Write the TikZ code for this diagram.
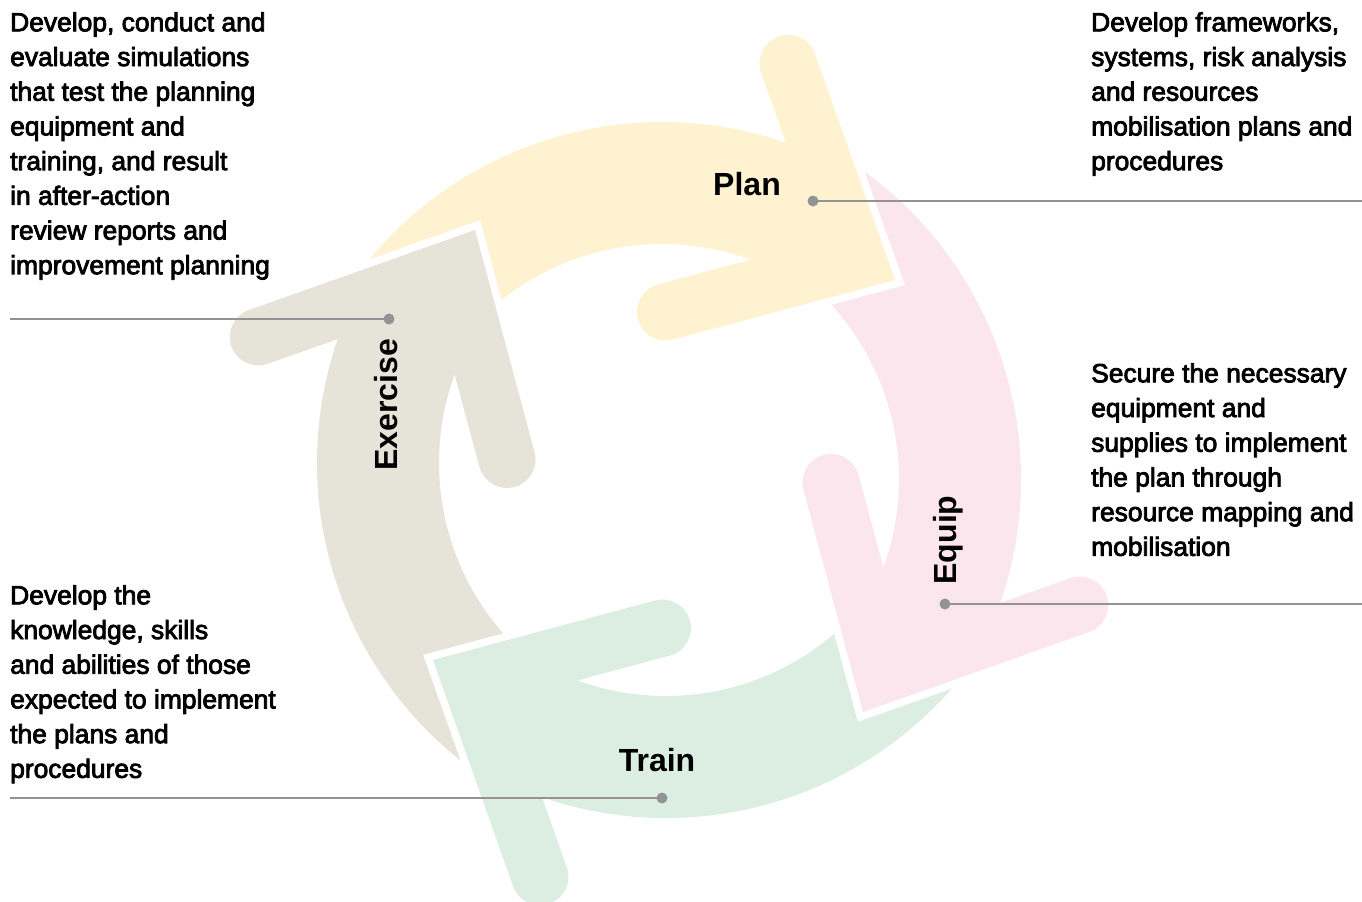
\documentclass[tikz,border=0pt]{standalone}
\usepackage{fontspec}
\setmainfont{Liberation Sans}
\newfontfamily\notefont{Liberation Sans}[FakeBold=3]
\usetikzlibrary{calc}

\definecolor{planyellow}{HTML}{FFF2D0}
\definecolor{equippink}{HTML}{FAE6EC}
\definecolor{traingreen}{HTML}{DCEEE1}
\definecolor{exercisegrey}{HTML}{E6E3D8}
\definecolor{leadergrey}{HTML}{939393}

% band of one cycle arrow (drawn for Plan, the others are turned copies)
\newcommand{\cyclebody}[1]{%
  \fill[#1] (662,502) ++(-147:380) arc[start angle=-147, end angle=-65, radius=380]
    -- (820.6,240.8) -- ($(662,502)+(-55:258)$) arc[start angle=-55, end angle=-137, radius=258]
    -- (455,262) -- cycle;
}
% head of one cycle arrow, with the white gap on its outer edges
\newcommand{\cyclehead}[1]{%
  \draw[gapline] (761.2,72.8) arc[start angle=160.5, end angle=340.5, radius=28.5]
    -- (895,280) -- (672.9,339.5) arc[start angle=75, end angle=255, radius=28.5];
  \fill[#1] (761.2,72.8) arc[start angle=160.5, end angle=340.5, radius=28.5]
    -- (895,280) -- (672.9,339.5) arc[start angle=75, end angle=255, radius=28.5]
    -- (820.6,240.8) -- cycle;
}

\tikzset{
  gapline/.style={draw=white, line width=15bp, line join=miter},
  stage/.style={font=\bfseries\fontsize{32bp}{36bp}\selectfont, inner sep=0pt},
  note/.style={font=\notefont\fontsize{26.4bp}{34.7bp}\selectfont, align=left, inner sep=0pt, anchor=north west},
  leader/.style={draw=leadergrey, line width=2.6bp},
  dot/.style={circle, fill=leadergrey, inner sep=0pt, minimum size=11bp}
}

\begin{document}
\begin{tikzpicture}[x=1bp, y=-1bp]
\useasboundingbox (0,0) rectangle (1362,901);

% bands first, then the heads over the next tail
\foreach \turn/\dx/\dy/\col in {0/0/0/planyellow, -90/5/13/equippink, 180/-6/-2/traingreen, 90/-1/-13/exercisegrey}
  {\begin{scope}[shift={(\dx,\dy)}, rotate around={\turn:(667,471)}] \cyclebody{\col} \end{scope}}
\foreach \turn/\dx/\dy/\col in {0/0/0/planyellow, -90/5/13/equippink, 180/-6/-2/traingreen, 90/-1/-13/exercisegrey}
  {\begin{scope}[shift={(\dx,\dy)}, rotate around={\turn:(667,471)}] \cyclehead{\col} \end{scope}}

\node[stage, anchor=base] (plan) at (747,195) {Plan};
\node[stage, anchor=base] (train) at (657,771) {Train};
\node[stage, anchor=base, rotate=90] (exercise) at (397,405) {Exercise};
\node[stage, anchor=base, rotate=90] (equip) at (956,540) {Equip};

\node[note] (exercisenote) at (10,12) {Develop, conduct and\\evaluate simulations\\that test the planning\\equipment and\\training, and result\\in after-action\\review reports and\\improvement planning};
\node[note] (plannote) at (1091,12) {Develop frameworks,\\systems, risk analysis\\and resources\\mobilisation plans and\\procedures};
\node[note] (equipnote) at (1091,363) {Secure the necessary\\equipment and\\supplies to implement\\the plan through\\resource mapping and\\mobilisation};
\node[note] (trainnote) at (10,585) {Develop the\\knowledge, skills\\and abilities of those\\expected to implement\\the plans and\\procedures};

% leader lines
\coordinate (planedge) at (1362,201);
\coordinate (exerciseedge) at (10,319);
\coordinate (equipedge) at (1362,604);
\coordinate (trainedge) at (10,798);
\node[dot] (plandot) at (813,201) {};
\node[dot] (exercisedot) at (389,319) {};
\node[dot] (equipdot) at (945,604) {};
\node[dot] (traindot) at (662,798) {};
\draw[leader] (plandot.center) -- (planedge);
\draw[leader] (exerciseedge) -- (exercisedot.center);
\draw[leader] (equipdot.center) -- (equipedge);
\draw[leader] (trainedge) -- (traindot.center);
\end{tikzpicture}
\end{document}
